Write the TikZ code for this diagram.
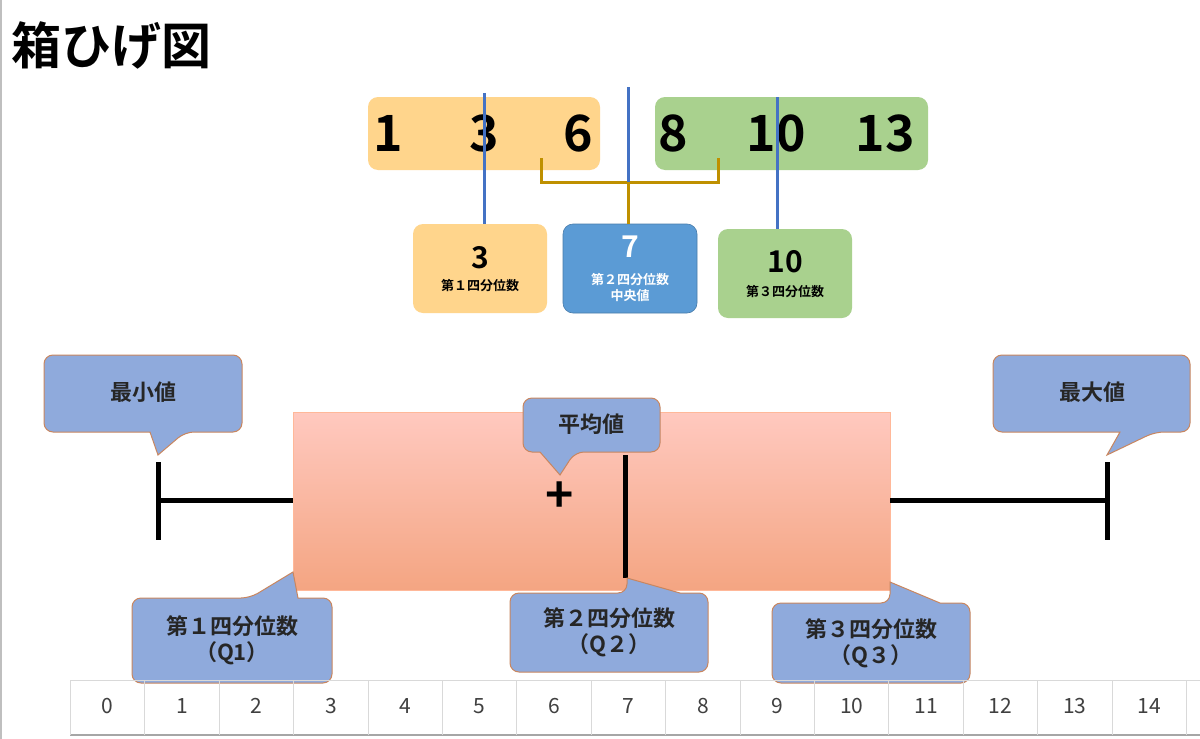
\documentclass[tikz,border=0pt]{standalone}
\usepackage{fontspec}
\setmainfont{Noto Sans CJK JP}
\newfontfamily\jpb{Noto Sans CJK JP Bold}
\begin{document}
\begin{tikzpicture}[x=1pt,y=-1pt,
  co/.style={fill=calfill,draw=calbord,line width=1pt,rounded corners=9pt},
  ct/.style={font=\jpb\fontsize{22}{26}\selectfont,align=center,text=black!85},
  big/.style={font=\jpb\fontsize{50}{52}\selectfont},
  sm/.style={font=\jpb\fontsize{13}{16}\selectfont},
  bl/.style={draw=qblue,line width=3pt},
  blk/.style={line width=5pt,black},
  gn/.style={font=\fontsize{21}{24}\selectfont,text=black!75}]
\definecolor{calfill}{HTML}{8FAADC}
\definecolor{calbord}{HTML}{C9865F}
\definecolor{qblue}{HTML}{4472C4}
\definecolor{ofill}{HTML}{FFD58C}
\definecolor{gfill}{HTML}{A9D18E}
\definecolor{bfill}{HTML}{5B9BD5}
\definecolor{gold}{HTML}{BF9000}
\useasboundingbox (0,0) rectangle (1200,739);
\fill[white] (0,0) rectangle (1200,739);
\draw[black!25,line width=2pt] (1,0) -- (1,739);
\node[anchor=west,font=\jpb\fontsize{50}{52}\selectfont] (title) at (8,45) {箱ひげ図};
% top data rows
\fill[ofill,rounded corners=10pt] (368,97) rectangle (600,170);
\fill[gfill,rounded corners=10pt] (655,97) rectangle (928,170);
\node[big] (n1) at (388,133) {1};
\node[big] (n3) at (484,133) {3};
\node[big] (n6) at (578,133) {6};
\node[big] (n8) at (673,133) {8};
\node[big] (n10) at (776,133) {10};
\node[big] (n13) at (885,133) {13};
% small boxes
\node[fill=ofill,rounded corners=10pt,minimum width=134pt,minimum height=89pt] (b1) at (480,268.5) {};
\node[fill=bfill,rounded corners=10pt,minimum width=134pt,minimum height=89pt,draw=bfill!80!black,line width=0.6pt] (b2) at (630,268.5) {};
\node[fill=gfill,rounded corners=10pt,minimum width=134pt,minimum height=89pt] (b3) at (785,273.5) {};
\node[font=\jpb\fontsize{30}{32}\selectfont] at (480,258) {3};
\node[sm] at (480,286) {第１四分位数};
\node[font=\jpb\fontsize{30}{32}\selectfont,text=white] at (630,247) {7};
\node[sm,text=white,align=center] at (630,287) {第２四分位数\\中央値};
\node[font=\jpb\fontsize{30}{32}\selectfont] at (785,262) {10};
\node[sm] at (785,292) {第３四分位数};
\coordinate (t1) at (484,93); \coordinate (t2) at (628,87); \coordinate (t3) at (777,97);
\draw[bl] (t1) -- (b1.north -| t1);
\draw[bl] (t3) -- (b3.north -| t3);
\draw[gold,line width=3pt] (541,158) -- (541,182) -- (718,182) -- (718,158);
\draw[gold,line width=3pt] (628,182) -- (b2.north -| 628,0);
\draw[bl] (t2) -- (628,182);
% box plot
\shade[top color=orange!30!red!25!white,bottom color={rgb,255:red,244;green,165;blue,130}] (293,412) rectangle (890,590);
\draw[orange!60!red!40,line width=0.5pt] (293,412) rectangle (890,590);
\coordinate (mn) at (158,500); \coordinate (mx) at (1107,500);
\draw[blk] (mn) -- (293,500);
\draw[blk] (890,500) -- (mx);
\draw[blk] (158,462) -- (158,540);
\draw[blk] (1107,462) -- (1107,540);
\draw[blk] (625,455) -- (625,578);
\node[font=\jpb\fontsize{48}{48}\selectfont] (plus) at (560,497) {+};
% callouts
\draw[co] (44,355) -- (242,355) -- (242,432) -- (185,432) [sharp corners] -- (158,455) -- (150,432) [rounded corners=9pt] -- (44,432) -- cycle;
\node[ct] (lmin) at (143,392) {最小値};
\draw[co] (993,355) -- (1190,355) -- (1190,432) -- (1155,432) [sharp corners] -- (1107,455) -- (1120,432) [rounded corners=9pt] -- (993,432) -- cycle;
\node[ct] (lmax) at (1092,392) {最大値};
\draw[co] (523,398) -- (660,398) -- (660,452) -- (575,452) [sharp corners] -- (560,475) -- (540,452) [rounded corners=9pt] -- (523,452) -- cycle;
\node[ct] (lmean) at (591,424) {平均値};
\draw[co] (132,598) -- (250,598) [sharp corners] -- (293,572) -- (298,598) [rounded corners=9pt] -- (332,598) -- (332,683) -- (132,683) -- cycle;
\node[ct] (lq1) at (232,640) {第１四分位数\\（Q1）};
\draw[co] (510,593) -- (627,593) [sharp corners] -- (627,578) -- (680,593) [rounded corners=9pt] -- (708,593) -- (708,672) -- (510,672) -- cycle;
\node[ct] (lq2) at (609,632) {第２四分位数\\（Q２）};
\draw[co] (772,603) -- (890,603) [sharp corners] -- (890,582) -- (940,603) [rounded corners=9pt] -- (970,603) -- (970,683) -- (772,683) -- cycle;
\node[ct] (lq3) at (871,643) {第３四分位数\\（Q３）};
% axis grid
\draw[black!15,line width=1pt] (70,680) -- (1200,680);
\draw[black!35,line width=1.5pt] (70,735) -- (1200,735);
\foreach \k in {0,...,15} \draw[black!15,line width=1pt] (70.5+74.4*\k,680) -- (70.5+74.4*\k,735);
\foreach \k in {0,...,14} \node[gn] (g\k) at (107.7+74.4*\k,706) {\k};
\end{tikzpicture}
\end{document}
